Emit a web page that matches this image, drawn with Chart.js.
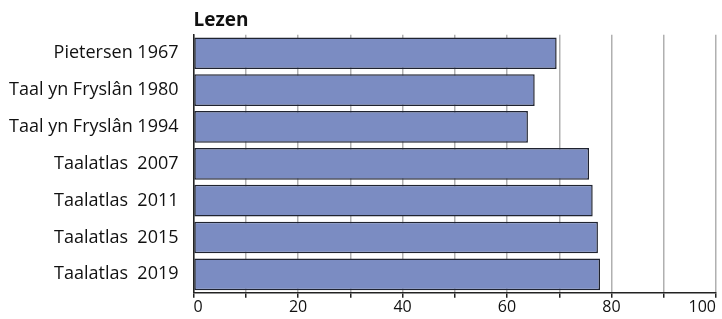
<!DOCTYPE html>
<html>
<head>
<meta charset="utf-8">
<script src="https://cdn.jsdelivr.net/npm/chart.js@4"></script>
<style>
  body { margin: 0; background: #fff; }
  #wrap { width: 722px; height: 319px; }
</style>
</head>
<body>
<div id="wrap"><canvas id="chart" width="722" height="319"></canvas></div>
<script>
const categories = [
    'Pietersen 1967',
    'Taal yn Fryslân 1980',
    'Taal yn Fryslân 1994',
    'Taalatlas  2007',
    'Taalatlas  2011',
    'Taalatlas  2015',
    'Taalatlas  2019'
];
const lezen = [69.5, 65.3, 64.0, 75.7, 76.4, 77.4, 77.8];
const xTicks = [0, 20, 40, 60, 80, 100];

const font = "'Open Sans', 'DejaVu Sans', sans-serif";

const ctx = document.getElementById('chart').getContext('2d');
new Chart(ctx, {
    type: 'bar',
    data: {
        labels: categories,
        datasets: [{
            label: 'Lezen',
            data: lezen,
            backgroundColor: '#7b8cc2',
            borderColor: '#1f2330',
            borderWidth: 1.5,
            borderSkipped: false,
            barPercentage: 0.86,
            categoryPercentage: 1
        }]
    },
    options: {
        indexAxis: 'y',
        responsive: false,
        animation: false,
        layout: { padding: { left: 2, right: 6, top: 6, bottom: 2 } },
        plugins: {
            legend: { display: false },
            tooltip: { enabled: false },
            title: {
                display: true,
                text: 'Lezen',
                align: 'start',
                fullSize: false,
                color: '#111',
                font: { family: font, size: 19, weight: 'bold' },
                padding: { top: 3, bottom: 3 }
            }
        },
        scales: {
            x: {
                min: 0,
                max: 100,
                ticks: {
                    stepSize: 10,
                    autoSkip: false,
                    maxRotation: 0,
                    align: 'inner',
                    color: '#111',
                    padding: 0,
                    font: { family: font, size: 16 },
                    callback: v => xTicks.includes(v) ? String(v) : ''
                },
                grid: {
                    color: '#b0b0b0',
                    lineWidth: 1.5,
                    tickColor: '#222',
                    tickLength: 5,
                    drawOnChartArea: true
                },
                border: { display: true, color: '#222', width: 1.5 }
            },
            y: {
                ticks: {
                    color: '#111',
                    padding: 7,
                    font: { family: font, size: 18 }
                },
                grid: { display: false },
                border: { display: true, color: '#222', width: 1.5 }
            }
        }
    }
});
</script>
</body>
</html>
